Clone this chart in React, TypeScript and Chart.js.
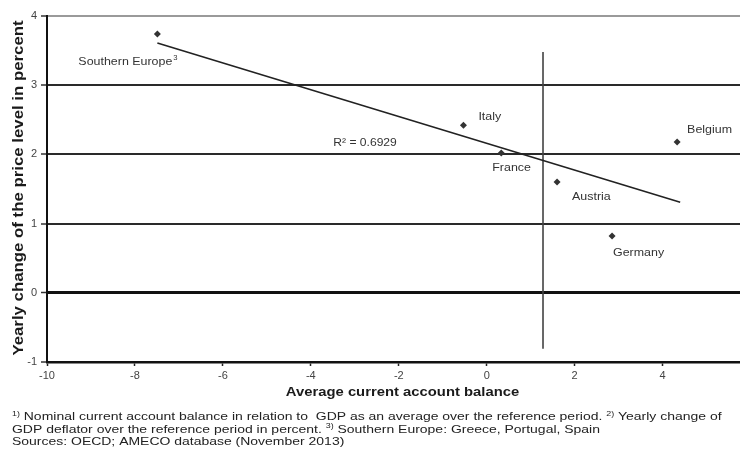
import { useEffect, useRef } from "react";
import { Chart, registerables } from "chart.js";

Chart.register(...registerables);

// Country observations: average current account balance (% of GDP) vs yearly change of GDP deflator (%)
const countries = ["Southern Europe", "Italy", "France", "Austria", "Belgium", "Germany"];
const countryNotes = ["3", "", "", "", "", ""];
const currentAccount = [-7.49, -0.53, 0.33, 1.6, 4.33, 2.85];
const priceChange = [3.74, 2.42, 2.02, 1.6, 2.18, 0.82];

// Linear trend line end points and the vertical reference line
const trendX = [-7.49, 4.4];
const trendY = [3.61, 1.31];
const markerX = [1.28, 1.28];
const markerY = [3.48, -0.81];
const rSquaredText = "R² = 0.6929";
const rSquaredAt = { x: -3.49, y: 2.16 };

const xTicks = [-10, -8, -6, -4, -2, 0, 2, 4];
const yTicks = [-1, 0, 1, 2, 3, 4];
const xMin = -10;
const xMax = 5.76;

const xTitle = "Average current account balance";
const yTitle = "Yearly change of the price level in percent";

type Seg = { t: string; sup?: boolean };
const footnoteLines: Seg[][] = [
  [
    { t: "1)", sup: true },
    { t: " Nominal current account balance in relation to  GDP as an average over the reference period. " },
    { t: "2)", sup: true },
    { t: " Yearly change of" },
  ],
  [
    { t: "GDP deflator over the reference period in percent. " },
    { t: "3)", sup: true },
    { t: " Southern Europe: Greece, Portugal, Spain" },
  ],
  [{ t: "Sources: OECD; AMECO database (November 2013)" }],
];

const FONT = "'Liberation Sans', Arial, sans-serif";
// label placement relative to each marker (pixels)
const labelOffsets = [
  { dx: -79, dy: 28 },
  { dx: 15, dy: -8 },
  { dx: -9, dy: 15 },
  { dx: 15, dy: 15 },
  { dx: 10, dy: -12 },
  { dx: 1, dy: 17 },
];

function drawText(
  ctx: CanvasRenderingContext2D,
  text: string,
  x: number,
  y: number,
  font: string,
  color: string,
  sx: number
): number {
  ctx.save();
  ctx.font = font;
  ctx.fillStyle = color;
  ctx.textBaseline = "middle";
  ctx.textAlign = "left";
  ctx.translate(x, y);
  ctx.scale(sx, 1);
  ctx.fillText(text, 0, 0);
  const w = ctx.measureText(text).width * sx;
  ctx.restore();
  return w;
}

const annotations = {
  id: "annotations",
  afterDraw(chart: any) {
    const ctx: CanvasRenderingContext2D = chart.ctx;
    const xs = chart.scales.x;
    const ys = chart.scales.y;
    const meta = chart.getDatasetMeta(0);
    const labelFont = `11px ${FONT}`;
    const supFont = `7px ${FONT}`;

    // country labels
    countries.forEach((name, i) => {
      const el = meta.data[i];
      const o = labelOffsets[i];
      const w = drawText(ctx, name, el.x + o.dx, el.y + o.dy, labelFont, "#333", 1.13);
      if (countryNotes[i]) {
        drawText(ctx, countryNotes[i], el.x + o.dx + w + 1, el.y + o.dy - 4, supFont, "#333", 1.1);
      }
    });

    // coefficient of determination
    drawText(
      ctx,
      rSquaredText,
      xs.getPixelForValue(rSquaredAt.x),
      ys.getPixelForValue(rSquaredAt.y),
      labelFont,
      "#333",
      1.1
    );

    // x axis title
    ctx.save();
    ctx.font = `bold 13px ${FONT}`;
    const tw = ctx.measureText(xTitle).width * 1.14;
    ctx.restore();
    const cx = (chart.chartArea.left + chart.chartArea.right) / 2 + 9;
    drawText(ctx, xTitle, cx - tw / 2, chart.chartArea.bottom + 30, `bold 13px ${FONT}`, "#1a1a1a", 1.14);

    // y axis title (rotated)
    ctx.save();
    const cy = (chart.chartArea.top + chart.chartArea.bottom) / 2 - 1;
    ctx.translate(19, cy);
    ctx.rotate(-Math.PI / 2);
    ctx.font = `bold 14px ${FONT}`;
    const yw = ctx.measureText(yTitle).width * 1.2;
    drawText(ctx, yTitle, -yw / 2, 0, `bold 14px ${FONT}`, "#1a1a1a", 1.2);
    ctx.restore();

    // footnotes
    const noteFont = `11px ${FONT}`;
    const noteSup = `7px ${FONT}`;
    footnoteLines.forEach((line, li) => {
      let x = 12;
      const y = chart.chartArea.bottom + 55 + li * 12.5;
      line.forEach((seg) => {
        if (seg.sup) {
          x += drawText(ctx, seg.t, x, y - 3, noteSup, "#222", 1.27);
        } else {
          x += drawText(ctx, seg.t, x, y, noteFont, "#222", 1.27);
        }
      });
    });
  },
};

export default function App() {
  const canvasRef = useRef<HTMLCanvasElement | null>(null);

  useEffect(() => {
    if (!canvasRef.current) return;
    const gridColor = (v: number) => (v === 4 ? "#9a9a9a" : v === 0 || v === -1 ? "#111" : "#2a2a2a");
    const gridWidth = (v: number) => (v === 0 ? 3 : 2);

    const chart = new Chart(canvasRef.current, {
      type: "scatter",
      data: {
        datasets: [
          {
            data: currentAccount.map((x, i) => ({ x, y: priceChange[i] })),
            pointStyle: "rectRot",
            pointRadius: 3.5,
            backgroundColor: "#333",
            borderColor: "#333",
            borderWidth: 0,
          },
          {
            data: trendX.map((x, i) => ({ x, y: trendY[i] })),
            showLine: true,
            pointRadius: 0,
            borderColor: "#222",
            borderWidth: 1.6,
          },
          {
            data: markerX.map((x, i) => ({ x, y: markerY[i] })),
            showLine: true,
            pointRadius: 0,
            borderColor: "#444",
            borderWidth: 1.6,
          },
        ],
      },
      options: {
        animation: false,
        responsive: true,
        maintainAspectRatio: false,
        layout: { autoPadding: false, padding: { top: 16, right: 0, left: 0, bottom: 0 } },
        plugins: { legend: { display: false }, tooltip: { enabled: false } },
        scales: {
          x: {
            type: "linear",
            min: xMin,
            max: xMax,
            afterBuildTicks: (s: any) => {
              s.ticks = xTicks.map((value) => ({ value }));
            },
            afterFit: (s: any) => {
              s.height = 94;
            },
            ticks: { font: { family: FONT, size: 11 }, color: "#444", padding: 3 },
            grid: {
              drawOnChartArea: false,
              drawTicks: true,
              tickLength: 4,
              tickColor: "#222",
              tickWidth: 1.5,
            },
            border: { color: "#111", width: 2.5 },
          },
          y: {
            type: "linear",
            min: -1,
            max: 4,
            afterBuildTicks: (s: any) => {
              s.ticks = yTicks.map((value) => ({ value }));
            },
            afterFit: (s: any) => {
              s.width = 47;
            },
            ticks: { font: { family: FONT, size: 11 }, color: "#444", padding: 4 },
            grid: {
              color: (c: any) => gridColor(c.tick?.value),
              lineWidth: (c: any) => gridWidth(c.tick?.value),
              tickColor: "#333",
              tickWidth: 1.5,
              tickLength: 6,
            },
            border: { color: "#111", width: 2 },
          },
        },
      },
      plugins: [annotations],
    });
    return () => chart.destroy();
  }, []);

  return (
    <div style={{ position: "absolute", left: 0, top: 0, width: 740, height: 456, background: "#fff" }}>
      <canvas ref={canvasRef} />
    </div>
  );
}
